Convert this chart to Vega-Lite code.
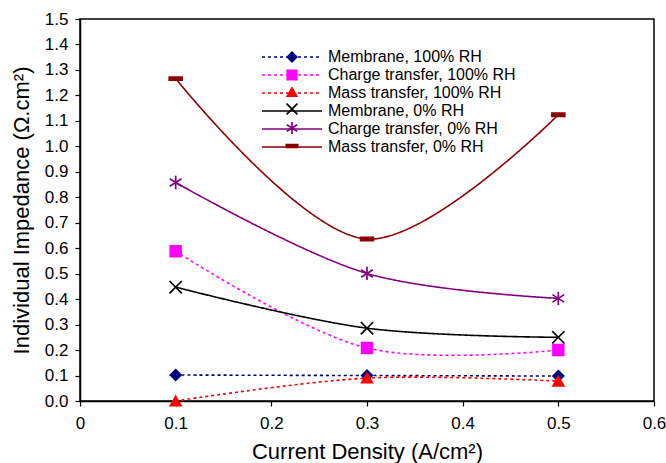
{
  "$schema": "https://vega.github.io/schema/vega-lite/v6.json",
  "width": 574,
  "height": 382,
  "autosize": {"type": "none"},
  "padding": {"left": 80, "top": 19, "right": 12, "bottom": 62},
  "background": "white",
  "config": {
    "font": "Liberation Sans",
    "view": {"stroke": "black", "strokeWidth": 1.5},
    "axis": {"grid": false, "domainColor": "black", "tickColor": "black", "labelColor": "black", "titleColor": "black", "labelFont": "Liberation Sans", "titleFont": "Liberation Sans", "labelFontSize": 17, "titleFontSize": 22, "titleFontWeight": "normal", "tickSize": 5, "domainWidth": 1.5, "tickWidth": 1.2, "labelOverlap": false, "labelFlush": false}
  },
  "data": {"values": [
    {"series": "Membrane, 100% RH", "x": 0.1, "y": 0.102},
    {"series": "Membrane, 100% RH", "x": 0.3, "y": 0.100},
    {"series": "Membrane, 100% RH", "x": 0.5, "y": 0.098},
    {"series": "Charge transfer, 100% RH", "x": 0.1, "y": 0.588},
    {"series": "Charge transfer, 100% RH", "x": 0.3, "y": 0.208},
    {"series": "Charge transfer, 100% RH", "x": 0.5, "y": 0.200},
    {"series": "Mass transfer, 100% RH", "x": 0.1, "y": 0.0},
    {"series": "Mass transfer, 100% RH", "x": 0.3, "y": 0.090},
    {"series": "Mass transfer, 100% RH", "x": 0.5, "y": 0.078},
    {"series": "Membrane, 0% RH", "x": 0.1, "y": 0.447},
    {"series": "Membrane, 0% RH", "x": 0.3, "y": 0.286},
    {"series": "Membrane, 0% RH", "x": 0.5, "y": 0.250},
    {"series": "Charge transfer, 0% RH", "x": 0.1, "y": 0.858},
    {"series": "Charge transfer, 0% RH", "x": 0.3, "y": 0.501},
    {"series": "Charge transfer, 0% RH", "x": 0.5, "y": 0.403},
    {"series": "Mass transfer, 0% RH", "x": 0.1, "y": 1.266},
    {"series": "Mass transfer, 0% RH", "x": 0.3, "y": 0.636},
    {"series": "Mass transfer, 0% RH", "x": 0.5, "y": 1.124}
  ]},
  "encoding": {
    "x": {"field": "x", "type": "quantitative", "scale": {"domain": [0, 0.6], "nice": false, "zero": true}, "axis": {"values": [0, 0.1, 0.2, 0.3, 0.4, 0.5, 0.6], "format": ".1~f", "title": "Current Density (A/cm²)", "titlePadding": 10, "labelPadding": 9, "labelOverlap": false}},
    "y": {"field": "y", "type": "quantitative", "scale": {"domain": [0, 1.5], "nice": false}, "axis": {"values": [0, 0.1, 0.2, 0.3, 0.4, 0.5, 0.6, 0.7, 0.8, 0.9, 1.0, 1.1, 1.2, 1.3, 1.4, 1.5], "tickCount": 16, "format": ".1f", "title": "Individual Impedance (Ω.cm²)", "titlePadding": 11, "labelPadding": 7, "labelOverlap": false}}
  },
  "resolve": {"legend": {"color": "independent", "shape": "independent", "strokeDash": "independent"}},
  "layer": [
    {
      "mark": {"type": "line", "interpolate": "catmull-rom", "strokeWidth": 1.6},
      "encoding": {
        "color": {"field": "series", "type": "nominal",
          "scale": {"domain": ["Membrane, 100% RH", "Charge transfer, 100% RH", "Mass transfer, 100% RH", "Membrane, 0% RH", "Charge transfer, 0% RH", "Mass transfer, 0% RH"],
                    "range": ["#000080", "#FF00FF", "#FF0000", "#000000", "#800080", "#8B0000"]},
          "legend": {"orient": "none", "legendX": 204, "legendY": 30, "title": null, "symbolType": "M-6,0L6,0", "symbolSize": 100, "symbolStrokeWidth": 1.6, "labelFontSize": 16, "labelFont": "Liberation Sans", "labelColor": "black", "labelOffset": 28, "rowPadding": 2, "labelLimit": 300}},
        "strokeDash": {"field": "series", "type": "nominal",
          "scale": {"domain": ["Membrane, 100% RH", "Charge transfer, 100% RH", "Mass transfer, 100% RH", "Membrane, 0% RH", "Charge transfer, 0% RH", "Mass transfer, 0% RH"],
                    "range": [[3, 3], [3, 3], [3, 3], [1, 0], [1, 0], [1, 0]]},
          "legend": {"orient": "none", "legendX": 204, "legendY": 30, "title": null, "symbolType": "M-6,0L6,0", "symbolSize": 100, "symbolStrokeWidth": 1.6, "labelFontSize": 16, "labelFont": "Liberation Sans", "labelColor": "black", "labelOffset": 28, "rowPadding": 2, "labelLimit": 300}}
      }
    },
    {
      "mark": {"type": "point", "filled": true, "size": 115, "strokeWidth": 1.7, "opacity": 1},
      "encoding": {
        "color": {"field": "series", "type": "nominal",
          "legend": {"orient": "none", "legendX": 204, "legendY": 30, "title": null, "symbolSize": 90, "labelFontSize": 16, "labelFont": "Liberation Sans", "labelExpr": "' '", "rowPadding": 0, "labelLimit": 300, "symbolOpacity": 1,
            "encode": {"symbols": {"update": {"stroke": {"scale": "color", "field": "value"}, "strokeWidth": {"value": 1.7}}}}}},
        "stroke": {"field": "series", "type": "nominal",
          "scale": {"domain": ["Membrane, 100% RH", "Charge transfer, 100% RH", "Mass transfer, 100% RH", "Membrane, 0% RH", "Charge transfer, 0% RH", "Mass transfer, 0% RH"],
                    "range": ["#000080", "#FF00FF", "#FF0000", "#000000", "#800080", "#8B0000"]},
          "legend": null},
        "shape": {"field": "series", "type": "nominal",
          "scale": {"domain": ["Membrane, 100% RH", "Charge transfer, 100% RH", "Mass transfer, 100% RH", "Membrane, 0% RH", "Charge transfer, 0% RH", "Mass transfer, 0% RH"],
                    "range": ["diamond", "square", "triangle-up", "M-1.15,-1.15L1.15,1.15M-1.15,1.15L1.15,-1.15", "M-1.1,-0.7L1.1,0.7M-1.1,0.7L1.1,-0.7M0,-1.25L0,1.25", "M-1.2,-0.3L1.2,-0.3L1.2,0.3L-1.2,0.3Z"]},
          "legend": {"orient": "none", "legendX": 204, "legendY": 30, "title": null, "symbolSize": 90, "labelFontSize": 16, "labelFont": "Liberation Sans", "labelExpr": "' '", "rowPadding": 0, "labelLimit": 300}}
      }
    }
  ]
}
